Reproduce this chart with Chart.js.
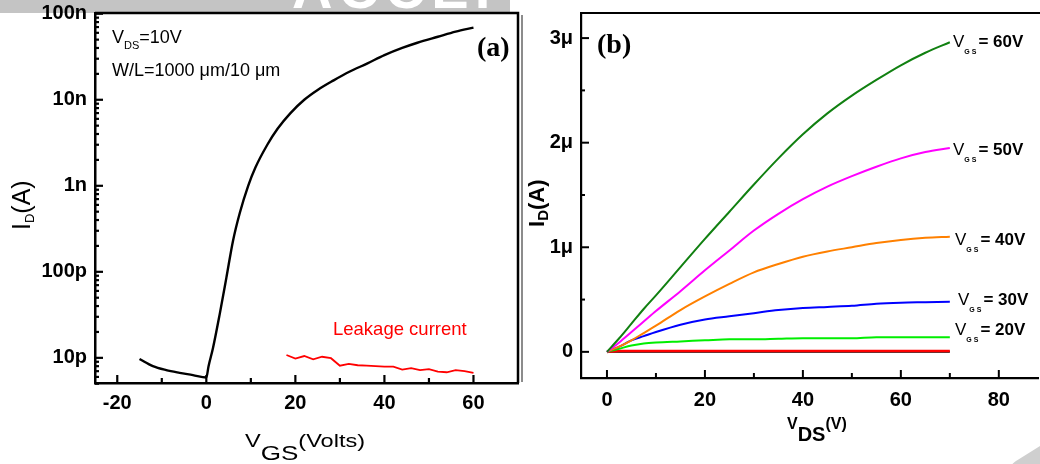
<!DOCTYPE html>
<html>
<head>
<meta charset="utf-8">
<script src="https://cdn.jsdelivr.net/npm/chart.js@4.4.1/dist/chart.umd.min.js"></script>
<style>
  html, body { margin: 0; padding: 0; background: #fff; }
  #wrap { position: relative; width: 1040px; height: 464px; overflow: hidden; font-family: 'Liberation Sans', Arial, sans-serif; }
  canvas { position: absolute; top: 0; }
  .t { position: absolute; white-space: nowrap; line-height: 1; color: #000; }
  .sub { position: relative; line-height: 1; }
  .serif { font-family: 'Liberation Serif', 'Times New Roman', serif; font-weight: bold; font-size: 28px; }
</style>
</head>
<body>
<div id="wrap">
  <!-- watermark remains -->
  <div style="position:absolute;left:0;top:0;width:510px;height:13px;background:#c4c4c4;overflow:hidden">
    <div style="position:absolute;left:292px;top:-44px;font:bold 56px 'Liberation Sans',Arial;color:#fff;letter-spacing:6px">ACCEPTE</div>
  </div>
  <div style="position:absolute;left:521px;top:15px;width:2px;height:367px;background:#8c8c8c"></div>
  <div style="position:absolute;left:1012px;top:446px;width:70px;height:50px;background:#cfcfcf;border-radius:14px;transform:rotate(-32deg)"></div>

  <canvas id="chartA" width="520" height="464" style="left:0;width:520px;height:464px"></canvas>
  <canvas id="chartB" width="520" height="464" style="left:520px;width:520px;height:464px"></canvas>

  <!-- panel (a) text -->
  <div class="t" style="left:112px;top:27.8px;font-size:18px">V<span class="sub" style="font-size:11px;top:6px">DS</span>=10V</div>
  <div class="t" style="left:112px;top:61px;font-size:18px">W/L=1000 μm/10 μm</div>
  <div class="t serif" style="left:477px;top:32.6px">(a)</div>
  <div class="t" style="left:333px;top:320.3px;font-size:18.5px;color:#ff0000">Leakage current</div>
  <div class="t" style="left:245px;top:428.9px;font-size:19px;transform:scaleX(1.24);transform-origin:0 0">V<span class="sub" style="font-size:21px;top:13px">GS</span>(Volts)</div>
  <div class="t" style="left:8.8px;top:230px;font-size:25px;transform:rotate(-90deg);transform-origin:0 0">I<span class="sub" style="font-size:13px;top:4px">D</span>(A)</div>

  <!-- panel (b) text -->
  <div class="t serif" style="left:597px;top:29.6px">(b)</div>
  <div class="t" style="left:526.4px;top:227px;font-size:22px;font-weight:bold;transform:rotate(-90deg);transform-origin:0 0">I<span class="sub" style="font-size:15px;top:4px">D</span>(A)</div>
  <div class="t" style="left:787px;top:411.5px;font-size:16px;font-weight:bold">V<span class="sub" style="font-size:20px;top:12px">DS</span>(V)</div>
  <div id="vgsLabels"></div>
</div>

<script>
// ---- panel (a): transfer curve, V_DS = 10 V ----
const vgsTransfer = [-15, -12, -9, -6, -3, 0, 0.5, 1.5, 3, 4.5, 6, 7.5, 9.4, 11, 13.7, 16, 18.9, 22, 25, 28.6, 32, 36.2, 40, 44, 47.4, 52, 56, 60];
const idTransfer = [9.7e-12, 8.0e-12, 7.2e-12, 6.7e-12, 6.3e-12, 5.9e-12, 8e-12, 13e-12, 32e-12, 85e-12, 230e-12, 480e-12,
  1.0e-9, 1.62e-9, 3.0e-9, 4.6e-9, 7.0e-9, 10e-9, 13.0e-9, 16.8e-9, 21e-9, 26.5e-9, 33e-9, 40e-9, 46e-9, 54e-9, 62e-9, 69e-9];

const vgsLeak = [18, 20, 22, 24, 26, 28, 30, 32, 34, 36, 38, 40, 42, 44, 46, 48, 50, 52, 54, 56, 58, 60];
const igLeak = [10.8e-12, 9.8e-12, 10.5e-12, 9.6e-12, 10.3e-12, 9.9e-12, 8.1e-12, 8.5e-12, 8.2e-12, 8.1e-12, 8.0e-12,
  7.9e-12, 7.9e-12, 7.3e-12, 7.6e-12, 7.2e-12, 7.4e-12, 6.9e-12, 6.8e-12, 7.2e-12, 7.0e-12, 6.7e-12];

const xTicksA = [-20, 0, 20, 40, 60];
const xMinorA = [-10, 10, 30, 50];
const yTicksA = [1e-11, 1e-10, 1e-9, 1e-8, 1e-7];
const yLabelsA = ['10p', '100p', '1n', '10n', '100n'];

// ---- panel (b): output curves ----
const vds = [0, 2.5, 5, 7.5, 10, 15, 20, 25, 30, 35, 40, 45, 50, 55, 60, 65, 70];
const vgsSteps = ['60V', '50V', '40V', '30V', '20V', '10V', '0V'];
const id60 = [0, 0.13, 0.27, 0.41, 0.54, 0.81, 1.08, 1.34, 1.60, 1.85, 2.08, 2.28, 2.45, 2.60, 2.74, 2.86, 2.96];
const id50 = [0, 0.09, 0.19, 0.29, 0.39, 0.58, 0.78, 0.97, 1.16, 1.32, 1.46, 1.58, 1.68, 1.77, 1.85, 1.91, 1.95];
const id40 = [0, 0.05, 0.11, 0.18, 0.25, 0.40, 0.53, 0.65, 0.76, 0.84, 0.91, 0.96, 1.00, 1.04, 1.07, 1.09, 1.10];
const id30 = [0, 0.05, 0.11, 0.15, 0.19, 0.26, 0.31, 0.34, 0.37, 0.40, 0.42, 0.43, 0.44, 0.46, 0.47, 0.475, 0.48];
const id20 = [0, 0.03, 0.06, 0.08, 0.09, 0.10, 0.11, 0.12, 0.12, 0.125, 0.13, 0.13, 0.13, 0.14, 0.14, 0.14, 0.14];
const id10 = [0, 0.008, 0.008, 0.008, 0.008, 0.008, 0.008, 0.008, 0.008, 0.008, 0.008, 0.008, 0.008, 0.008, 0.008, 0.008, 0.008];
const id0 = [0, 0, 0, 0, 0, 0, 0, 0, 0, 0, 0, 0, 0, 0, 0, 0, 0];
const curveColors = ['#118011', '#ff00ff', '#ff8000', '#0000ff', '#00ee00', '#ff0000', '#000000'];

const xTicksB = [0, 20, 40, 60, 80];
const xMinorB = [10, 30, 50, 70];
const yTicksB = [0, 1e-6, 2e-6, 3e-6];
const yMinorB = [0.5e-6, 1.5e-6, 2.5e-6];
const yLabelsB = ['0', '1μ', '2μ', '3μ'];

// label anchors for V_GS text (pixel spots beside line ends)
const labelSpots = [[953, 47], [953, 155], [955, 245], [958, 305], [955, 335]];

const tickFont = { family: "'Liberation Sans', Arial, sans-serif", size: 20, weight: 'bold' };

// minor ticks for the log axis
const yMinorA = [];
for (let e = -12; e <= -8; e++) {
  for (let m = 2; m <= 9; m++) yMinorA.push(m * Math.pow(10, e));
}

function pts(xs, ys, k) {
  return xs.map((x, i) => ({ x: x, y: ys[i] * (k || 1) }));
}

function fixAxis(size, horizontal) {
  return s => {
    if (horizontal) s.height = size; else s.width = size;
    s.paddingTop = 0; s.paddingBottom = 0; s.paddingLeft = 0; s.paddingRight = 0;
  };
}

// inward ticks + top/right frame
const frameTicks = {
  id: 'frameTicks',
  afterDraw(chart, args, o) {
    const { ctx, chartArea: a, scales: { x, y } } = chart;
    ctx.save();
    ctx.strokeStyle = '#000';
    ctx.lineWidth = o.lw;
    ctx.beginPath();
    ctx.moveTo(a.left, a.top);
    ctx.lineTo(o.right ? a.right : chart.width, a.top);
    if (o.right) ctx.lineTo(a.right, a.bottom);
    ctx.stroke();
    ctx.lineWidth = o.tw;
    const draw = (vals, len, isX) => {
      vals.forEach(v => {
        ctx.beginPath();
        if (isX) {
          const px = x.getPixelForValue(v);
          ctx.moveTo(px, a.bottom); ctx.lineTo(px, a.bottom - len);
        } else {
          const py = y.getPixelForValue(v);
          if (py < a.top - 1 || py > a.bottom + 1) return;
          ctx.moveTo(a.left, py); ctx.lineTo(a.left + len, py);
        }
        ctx.stroke();
      });
    };
    draw(o.xMajor, 8, true);
    draw(o.xMinor, 5, true);
    draw(o.yMajor, 8, false);
    draw(o.yMinor, 4, false);
    ctx.restore();
  }
};

const noGrid = { display: false, drawTicks: false };

new Chart(document.getElementById('chartA'), {
  type: 'line',
  data: {
    datasets: [
      { data: pts(vgsLeak, igLeak), borderColor: '#ff0000', borderWidth: 1.8, pointRadius: 0, tension: 0 },
      { data: pts(vgsTransfer, idTransfer), borderColor: '#000000', borderWidth: 2.4, pointRadius: 0, cubicInterpolationMode: 'monotone' }
    ]
  },
  options: {
    responsive: false,
    animation: false,
    layout: { padding: { top: 13, right: 2, left: 0, bottom: 0 } },
    plugins: {
      legend: { display: false },
      tooltip: { enabled: false },
      frameTicks: { lw: 2.5, tw: 2.2, right: true, xMajor: xTicksA, xMinor: xMinorA, yMajor: yTicksA, yMinor: yMinorA }
    },
    scales: {
      x: {
        type: 'linear', min: -25, max: 70,
        grid: noGrid,
        border: { display: true, width: 2.5, color: '#000' },
        afterBuildTicks: s => { s.ticks = xTicksA.map(v => ({ value: v })); },
        afterFit: fixAxis(81, true),
        ticks: { font: tickFont, color: '#000', padding: 8, autoSkip: false, maxRotation: 0, callback: v => String(v) }
      },
      y: {
        type: 'logarithmic', min: 5.1e-12, max: 1.02e-7,
        grid: noGrid,
        border: { display: true, width: 2.5, color: '#000' },
        afterBuildTicks: s => { s.ticks = yTicksA.map(v => ({ value: v })); },
        afterFit: fixAxis(95, false),
        ticks: { font: tickFont, color: '#000', padding: 8, autoSkip: false, callback: (v, i) => yLabelsA[i] }
      }
    }
  },
  plugins: [frameTicks]
});

const seriesB = [id60, id50, id40, id30, id20, id10, id0];
new Chart(document.getElementById('chartB'), {
  type: 'line',
  data: {
    datasets: seriesB.map((s, i) => ({
      label: 'VGS = ' + vgsSteps[i],
      data: pts(vds, s, 1e-6),
      borderColor: curveColors[i],
      borderWidth: i === 5 ? 2.6 : 2,
      pointRadius: 0,
      cubicInterpolationMode: 'monotone'
    }))
  },
  options: {
    responsive: false,
    animation: false,
    layout: { padding: { top: 13, right: 2, left: 0, bottom: 0 } },
    plugins: {
      legend: { display: false },
      tooltip: { enabled: false },
      frameTicks: { lw: 2.2, tw: 2, right: false, xMajor: xTicksB, xMinor: xMinorB, yMajor: yTicksB, yMinor: yMinorB }
    },
    scales: {
      x: {
        type: 'linear', min: -5.3, max: 88,
        grid: noGrid,
        border: { display: true, width: 2.2, color: '#000' },
        afterBuildTicks: s => { s.ticks = xTicksB.map(v => ({ value: v })); },
        afterFit: fixAxis(86, true),
        ticks: { font: tickFont, color: '#000', padding: 10, autoSkip: false, maxRotation: 0, callback: v => String(v) }
      },
      y: {
        type: 'linear', min: -0.25e-6, max: 3.24e-6,
        grid: noGrid,
        border: { display: true, width: 2.2, color: '#000' },
        afterBuildTicks: s => { s.ticks = yTicksB.map(v => ({ value: v })); },
        afterFit: fixAxis(61, false),
        ticks: { font: tickFont, color: '#000', padding: 8, autoSkip: false, callback: (v, i) => yLabelsB[i] }
      }
    }
  },
  plugins: [frameTicks]
});

// V_GS labels at the curve ends
const holder = document.getElementById('vgsLabels');
labelSpots.forEach((p, i) => {
  const d = document.createElement('div');
  d.className = 't';
  d.style.left = p[0] + 'px';
  d.style.top = (p[1] - 0.846 * 17) + 'px';
  d.style.fontSize = '17px';
  d.innerHTML = 'V<span class="sub" style="font-size:7px;top:7px;letter-spacing:2px;font-weight:bold">GS</span><b>= ' + vgsSteps[i] + '</b>';
  holder.appendChild(d);
});
</script>
</body>
</html>
